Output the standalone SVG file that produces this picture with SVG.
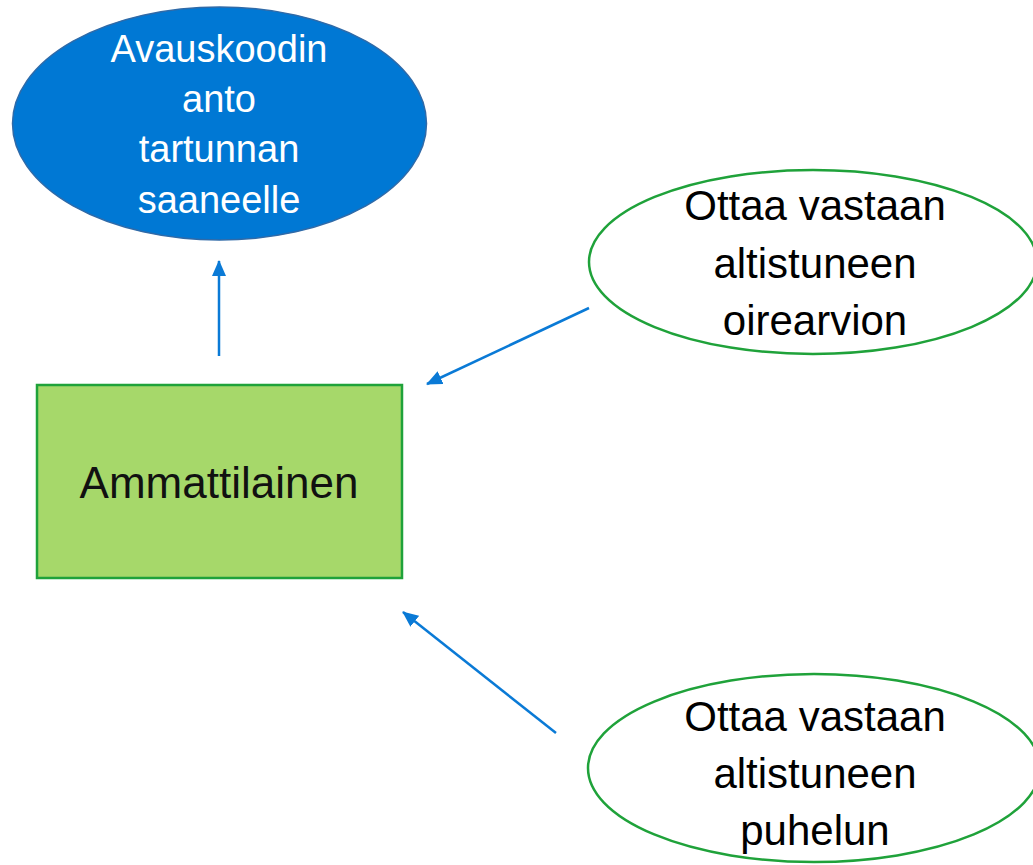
<svg xmlns="http://www.w3.org/2000/svg" width="1033" height="865" viewBox="0 0 1033 865">
<defs>
<style>
.conn{stroke:#0A7AD6;stroke-width:2.5;fill:none;marker-end:url(#ah)}
.t{font-family:"Gill Sans","Liberation Sans",Arial,sans-serif;text-anchor:middle}
.green{fill:#fff;stroke:#1FA23A;stroke-width:2.5}
</style>
<marker id="ah" markerUnits="userSpaceOnUse" markerWidth="16" markerHeight="14" refX="15" refY="7" orient="auto">
<path d="M0,0 L16,7 L0,14 Z" fill="#0A7AD6"/>
</marker>
</defs>
<rect width="1033" height="865" fill="#fff"/>
<g id="connectors">
<line class="conn" x1="219" y1="356" x2="219" y2="261"/>
<line class="conn" x1="589" y1="308" x2="427" y2="384"/>
<line class="conn" x1="556" y1="733" x2="403" y2="612"/>
</g>
<g id="avauskoodi">
<ellipse cx="219.5" cy="123.5" rx="207" ry="116.5" fill="#0078D4" stroke="#2F6AA8" stroke-width="1.5"/>
<text class="t" font-size="38" fill="#fff"><tspan x="219" y="62">Avauskoodin</tspan><tspan x="219" y="112">anto</tspan><tspan x="219" y="162">tartunnan</tspan><tspan x="219" y="213">saaneelle</tspan></text>
</g>
<g id="ammattilainen">
<rect x="37" y="385" width="365" height="193" fill="#A6D86A" stroke="#1FA23A" stroke-width="2.5"/>
<text class="t" x="219" y="498" font-size="44" fill="#111">Ammattilainen</text>
</g>
<g id="oirearvio">
<ellipse class="green" cx="813" cy="262" rx="224" ry="92"/>
<text class="t" font-size="42" fill="#000"><tspan x="815" y="220">Ottaa vastaan</tspan><tspan x="815" y="278">altistuneen</tspan><tspan x="815" y="335">oirearvion</tspan></text>
</g>
<g id="puhelu">
<ellipse class="green" cx="814" cy="768" rx="226" ry="94"/>
<text class="t" font-size="42" fill="#000"><tspan x="815" y="731">Ottaa vastaan</tspan><tspan x="815" y="788">altistuneen</tspan><tspan x="815" y="845">puhelun</tspan></text>
</g>
</svg>
